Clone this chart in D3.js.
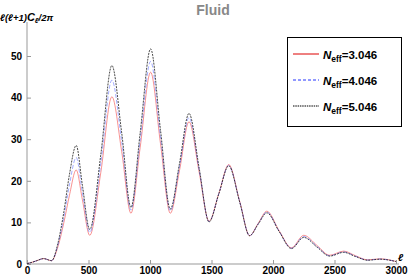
<!DOCTYPE html>
<html>
<head>
<meta charset="utf-8">
<script src="https://cdn.jsdelivr.net/npm/d3@7"></script>
<style>
  body { margin: 0; background: #fff; }
  svg { display: block; font-family: "Liberation Sans", Arial, sans-serif; }
</style>
</head>
<body>
<svg width="413" height="279"></svg>
<script>
// ---- data (l, l(l+1)C_l/2pi)
const ell      = [2, 40, 80, 135, 200, 250, 300, 345, 400, 450, 510, 600, 690, 770, 845, 920, 1005, 1085, 1165, 1240, 1317, 1400, 1480, 1560, 1640, 1730, 1810, 1880, 1950, 2050, 2150, 2250, 2360, 2460, 2575, 2670, 2770, 2870, 3000];
const neff3046 = [0.1, 0.4, 0.8, 1.3, 0.8, 4.0, 10.0, 16.5, 22.6, 15.5, 6.9, 22.0, 40.2, 27.0, 12.2, 28.0, 46.1, 29.0, 12.2, 22.5, 34.2, 22.0, 10.3, 17.0, 23.9, 15.0, 6.8, 9.8, 12.7, 8.0, 3.9, 6.9, 4.4, 2.1, 3.1, 2.0, 1.0, 1.25, 0.6];
const neff4046 = [0.1, 0.4, 0.8, 1.3, 0.8, 4.4, 11.3, 19.0, 25.6, 17.2, 7.6, 24.2, 44.2, 29.4, 13.0, 29.8, 48.7, 30.6, 12.8, 23.4, 35.2, 22.5, 10.2, 17.0, 23.7, 14.9, 6.8, 9.7, 12.5, 7.9, 3.8, 6.6, 4.2, 2.0, 2.9, 1.9, 0.95, 1.2, 0.6];
const neff5046 = [0.1, 0.4, 0.8, 1.3, 0.8, 4.8, 12.6, 21.5, 28.5, 19.0, 8.3, 26.3, 47.7, 31.5, 13.6, 31.5, 51.7, 32.3, 13.2, 24.2, 36.2, 23.0, 10.1, 16.9, 23.6, 14.8, 6.8, 9.6, 12.3, 7.8, 3.7, 6.4, 4.0, 1.9, 2.8, 1.8, 0.9, 1.15, 0.6];
const xTicks = [0, 500, 1000, 1500, 2000, 2500, 3000];
const yTicks = [0, 10, 20, 30, 40, 50];

const series = [
    { name: '3.046', values: neff3046, color: '#ee2222', dash: null, legendColor: '#dd0000' },
    { name: '4.046', values: neff4046, color: '#4455ff', dash: '4,2', legendColor: '#2233ff' },
    { name: '5.046', values: neff5046, color: '#111111', dash: '2,1', legendColor: '#000000' }
];

const svg = d3.select('svg');

// ---- escalas
const x = d3.scaleLinear().domain([0, 3000]).range([27, 396]);
const y = d3.scaleLinear().domain([0, 50]).range([264, 56]);

// ---- eixos (ticks para dentro, estilo Mathematica)
const axisColor = '#999';

const gx = svg.append('g').attr('transform', `translate(0, ${y(0)})`);
gx.call(d3.axisBottom(x).tickValues(d3.range(0, 3001, 100)).tickSize(-2).tickFormat(''));
gx.call(d3.axisBottom(x).tickValues(xTicks).tickSize(-4).tickPadding(3).tickFormat(d3.format('d')));
gx.select('.domain').attr('d', `M${x(0)},0H${x(3000) + 3}`);

const gy = svg.append('g').attr('transform', `translate(${x(0)}, 0)`);
gy.call(d3.axisLeft(y).tickValues(d3.range(0, 58.1, 2)).tickSize(-2).tickFormat(''));
gy.call(d3.axisLeft(y).tickValues(yTicks).tickSize(-4).tickPadding(5).tickFormat(d3.format('d')));
gy.select('.domain').attr('d', `M0,${y(0)}V22`);

svg.selectAll('.domain, .tick line').attr('stroke', axisColor);
svg.selectAll('.tick text')
    .attr('fill', '#000')
    .style('font-family', '"Liberation Sans", Arial, sans-serif')
    .style('font-size', '10px')
    .style('font-weight', 'bold');

// ---- curvas
const line = d3.line()
    .x((d, i) => x(ell[i]))
    .y(d => y(d))
    .curve(d3.curveMonotoneX);

svg.append('g')
    .selectAll('path')
    .data(series)
    .join('path')
    .attr('d', d => line(d.values))
    .attr('fill', 'none')
    .attr('stroke', d => d.color)
    .attr('stroke-width', 0.9)
    .attr('stroke-opacity', d => d.dash === '2,1' ? 0.85 : 0.55)
    .attr('stroke-dasharray', d => d.dash);

// ---- título e rótulos
svg.append('text')
    .attr('x', 213).attr('y', 15)
    .attr('text-anchor', 'middle')
    .attr('fill', '#888')
    .style('font-size', '14px')
    .style('font-weight', 'bold')
    .text('Fluid');

const yl = svg.append('text')
    .attr('x', 0).attr('y', 21)
    .style('font-size', '9.5px')
    .style('font-weight', 'bold')
    .style('font-style', 'italic');
yl.append('tspan').text('ℓ(ℓ+1)');
yl.append('tspan').style('font-size', '11px').text('C');
yl.append('tspan').attr('dy', 2).style('font-size', '7px').text('ℓ');
yl.append('tspan').attr('dy', -2).text('/2π');

svg.append('text')
    .attr('x', 398).attr('y', 261)
    .style('font-size', '10px')
    .style('font-weight', 'bold')
    .style('font-style', 'italic')
    .text('ℓ');

// ---- legenda
const lg = svg.append('g');
lg.append('rect')
    .attr('x', 287.5).attr('y', 37.5)
    .attr('width', 114).attr('height', 89)
    .attr('fill', '#fff')
    .attr('stroke', '#000')
    .attr('stroke-width', 1);

const items = lg.selectAll('g.item')
    .data(series)
    .join('g')
    .attr('class', 'item')
    .attr('transform', (d, i) => `translate(0, ${54 + i * 26})`);

items.append('line')
    .attr('x1', 293).attr('x2', 319)
    .attr('y1', 0).attr('y2', 0)
    .attr('stroke', d => d.legendColor)
    .attr('stroke-width', 1)
    .attr('stroke-dasharray', d => d.dash === '4,2' ? '3,2' : (d.dash ? '1.5,0.8' : null));

const lt = items.append('text')
    .attr('x', 323).attr('y', 4.5)
    .style('font-size', '11.5px')
    .style('font-weight', 'bold');
lt.append('tspan').style('font-style', 'italic').text('N');
lt.append('tspan').attr('dy', 3).style('font-size', '8.5px').text('eff');
lt.append('tspan').attr('dy', -3).text(d => '=' + d.name);
</script>
</body>
</html>
